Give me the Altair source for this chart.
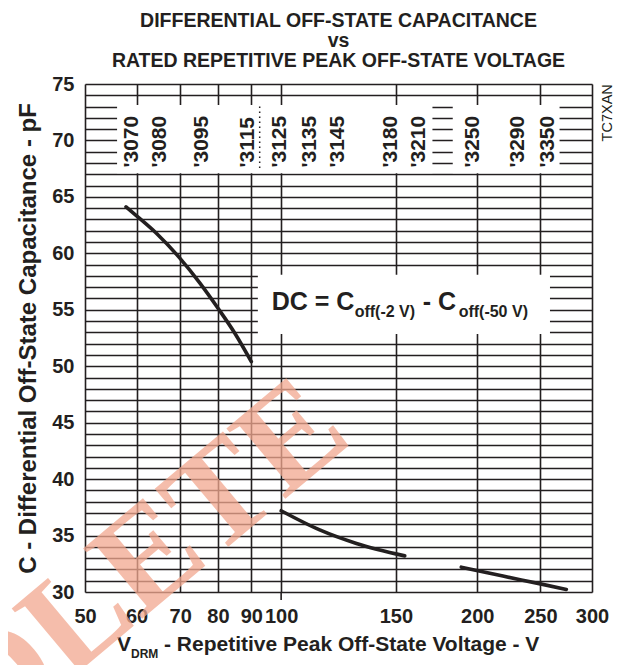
import altair as alt
import pandas as pd

# ---- data ----
seg1_v = [57.8, 60.0, 64.4, 69.9, 75.0, 80.0, 85.0, 90.0]
seg1_c = [64.12, 63.32, 61.76, 59.58, 57.39, 55.14, 52.88, 50.41]
seg2_v = [100.0, 114.6, 130.5, 154.8]
seg2_c = [37.2, 35.5, 34.3, 33.2]
seg3_v = [189.0, 219.0, 250.0, 274.0]
seg3_c = [32.2, 31.41, 30.72, 30.23]

x_ticks = [50, 60, 70, 80, 90, 100, 150, 200, 250, 300]
y_grid = list(range(30, 76))

device_labels = ["'3070", "'3080", "'3095", "'3115", "'3125", "'3135", "'3145",
                 "'3180", "'3210", "'3250", "'3290", "'3350"]
device_volts = [59.0, 65.2, 75.5, 88.9, 99.6, 110.7, 122.2, 147.6, 163.0, 196.8, 230.6, 257.0]

INK = "#231f20"
FONT = "Liberation Sans"

curves = pd.DataFrame({
    "v": seg1_v + seg2_v + seg3_v,
    "c": seg1_c + seg2_c + seg3_c,
    "seg": ["a"] * len(seg1_v) + ["b"] * len(seg2_v) + ["c"] * len(seg3_v),
})
devices = pd.DataFrame({"v": device_volts, "label": device_labels})

W, H = 507, 508
xs = alt.Scale(type="log", domain=[50, 300], nice=False)
ys = alt.Scale(domain=[30, 75], nice=False, zero=False)

xaxis = alt.Axis(values=x_ticks, tickCount=50, grid=True, gridColor=INK, gridWidth=1.6,
                 gridOpacity=1, format="d",
                 labelFontSize=20, labelFontWeight="bold", labelFont=FONT, labelColor=INK,
                 labelPadding=14, tickSize=0, domain=False, title="",
                 labelOverlap=False, labelFlush=False)
yaxis = alt.Axis(values=y_grid, tickCount=100, grid=True, gridColor=INK, gridWidth=1.4,
                 gridOpacity=1, format="d",
                 labelExpr="datum.value % 5 === 0 ? datum.label : ''",
                 labelOverlap=False,
                 labelFontSize=20, labelFontWeight="bold", labelFont=FONT, labelColor=INK,
                 labelPadding=11, tickSize=0, domain=False,
                 title="C - Differential Off-State Capacitance - pF",
                 titleFontSize=24, titleFontWeight="bold", titleFont=FONT, titleColor=INK,
                 titlePadding=11)

lines = alt.Chart(curves).mark_line(color=INK, strokeWidth=3.6, interpolate="monotone",
                                    strokeCap="round").encode(
    x=alt.X("v:Q", scale=xs, axis=xaxis),
    y=alt.Y("c:Q", scale=ys, axis=yaxis),
    detail="seg:N",
)

def wrect(x1, x2, y1, y2):
    return alt.Chart().mark_rect(color="white").encode(
        x=alt.datum(x1, scale=xs), x2=alt.datum(x2),
        y=alt.datum(y1, scale=ys), y2=alt.datum(y2))

box1 = wrect(56.0, 170.7, 67.1, 73.15)
box2 = wrect(183.4, 267.5, 67.1, 73.15)
box3 = wrect(92.1, 258.6, 52.85, 58.1)

dotted = alt.Chart().mark_rule(color=INK, strokeWidth=1.5, strokeDash=[1.5, 3.5]).encode(
    x=alt.datum(92.7, scale=xs), y=alt.datum(73.0, scale=ys), y2=alt.datum(67.4))

tick100 = alt.Chart().mark_rule(color=INK, strokeWidth=1.6).encode(
    x=alt.datum(100, scale=xs), y=alt.datum(30, scale=ys), y2=alt.value(H + 8))

dev_text = alt.Chart(devices).mark_text(angle=270, align="left", baseline="middle",
                                        fontSize=21, fontWeight="bold", font=FONT,
                                        color=INK).encode(
    x=alt.X("v:Q", scale=xs), y=alt.datum(67.6, scale=ys), text="label:N")

def txt(s, size, dx, dy, weight="bold", **kw):
    return alt.Chart().mark_text(text=s, fontSize=size, fontWeight=weight, font=FONT,
                                 color=INK, align="left", baseline="alphabetic",
                                 dx=dx, dy=dy, **kw)

# formula box
fx, fy = 96.7, 55.0
f1 = txt("DC = C", 25, 0, 0).encode(x=alt.datum(fx, scale=xs), y=alt.datum(fy, scale=ys))
f2 = txt("off(-2 V)", 16, 83, 7.5).encode(x=alt.datum(fx, scale=xs), y=alt.datum(fy, scale=ys))
f3 = txt("- C", 25, 151, 0).encode(x=alt.datum(fx, scale=xs), y=alt.datum(fy, scale=ys))
f4 = txt("off(-50 V)", 16, 187, 7.5).encode(x=alt.datum(fx, scale=xs), y=alt.datum(fy, scale=ys))

# x-axis title with subscript
t1 = txt("V", 21, 32, 59).encode(x=alt.datum(50, scale=xs), y=alt.datum(30, scale=ys))
t2 = txt("DRM", 12, 46, 66).encode(x=alt.datum(50, scale=xs), y=alt.datum(30, scale=ys))
t3 = txt("- Repetitive Peak Off-State Voltage - V", 21, 79, 59).encode(
    x=alt.datum(50, scale=xs), y=alt.datum(30, scale=ys))

code = alt.Chart().mark_text(text="TC7XAN", angle=270, align="center", baseline="middle",
                             fontSize=14.5, font=FONT, color=INK, dy=16).encode(
    x=alt.datum(300, scale=xs), y=alt.datum(72.45, scale=ys))

watermark = alt.Chart().mark_text(text="OBSOLETE", angle=320, align="right",
                                  baseline="middle", fontSize=140, fontWeight="bold",
                                  font="Liberation Serif", color="#f2a88f",
                                  opacity=0.75).encode(
    x=alt.datum(118, scale=xs), y=alt.datum(46.3, scale=ys))

chart = alt.layer(
    box1, box2, box3, lines, dotted, tick100, dev_text, f1, f2, f3, f4, t1, t2, t3, code,
    watermark
).properties(
    width=W, height=H,
    autosize=alt.AutoSizeParams(type="none"),
    padding={"left": 77, "top": 76, "right": 27, "bottom": 73},
    title=alt.TitleParams(
        text=["DIFFERENTIAL OFF-STATE CAPACITANCE", "vs",
              "RATED REPETITIVE PEAK OFF-STATE VOLTAGE"],
        fontSize=19.5, fontWeight="bold", font=FONT, color=INK, lineHeight=20,
        anchor="middle", frame="group", offset=2.5),
).configure_view(stroke=INK, strokeWidth=2).configure(background="white")

chart.save("out.html", embed_options={"renderer": "svg", "actions": False})
